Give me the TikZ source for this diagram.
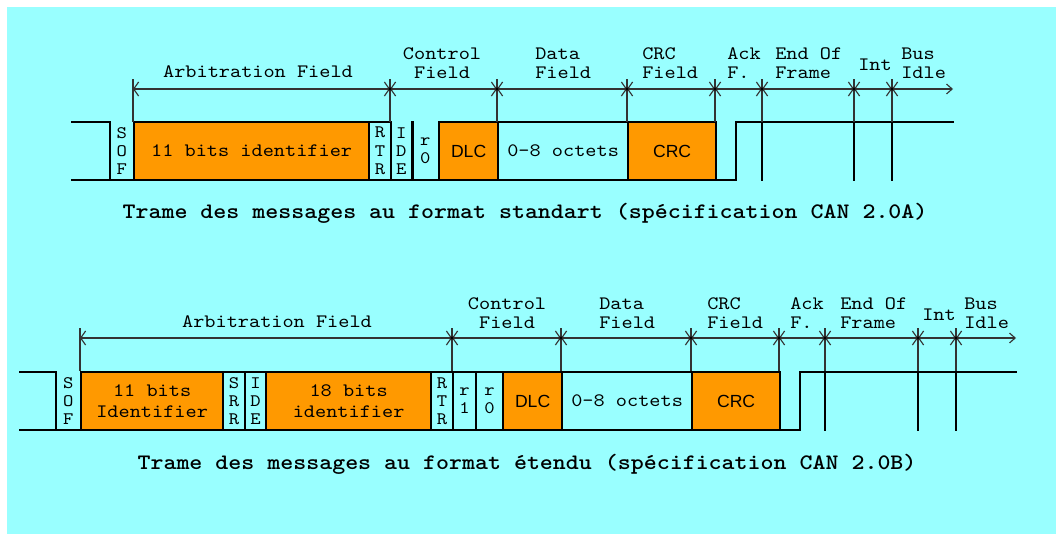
\documentclass[tikz,border=0pt]{standalone}
\usepackage{fontspec}
\setsansfont{Liberation Sans}
\newfontfamily\cmono{lmmono10-regular.otf}[FakeStretch=1.12]
\newfontfamily\cmonob{lmmonolt10-bold.otf}[FakeStretch=1.12]
\usetikzlibrary{arrows.meta}
\definecolor{bgcyan}{HTML}{99FFFF}
\definecolor{canorange}{HTML}{FF9900}
\newcommand{\pxu}{0.025cm}
\tikzset{
	cell/.style={
		rectangle,
		inner sep=0pt,
		minimum height=58*\pxu,
		anchor=west,
		align=center,
		font=\cmono\fontsize{13.5}{15}\selectfont
	},
	highcell/.style={
		cell,
		draw=black,
		line width=1.6pt
	},
	idcell/.style={
		highcell,
		fill=canorange
	},
	sanscell/.style={
		idcell,
		font=\sffamily\fontsize{12.5}{15}\selectfont
	},
	vtext/.style={
		inner sep=0pt,
		font=\cmono\fontsize{12.5}{13}\selectfont
	},
	field/.style={
		inner sep=0pt,
		align=left,
		anchor=west,
		font=\cmono\fontsize{13.5}{13.5}\selectfont
	},
	caption/.style={
		inner sep=0pt,
		font=\cmonob\fontsize{15.7}{18}\selectfont
	},
	wave/.style={line width=1.6pt, line cap=rect},
	tick/.style={line width=0.8pt, draw=black!80},
	dim/.style={
		line width=0.8pt, draw=black!80,
		{Straight Barb[length=3.5pt,width=10pt]}-{Straight Barb[length=3.5pt,width=10pt]}
	},
	lastdim/.style={
		line width=0.8pt, draw=black!80,
		{Straight Barb[length=3.5pt,width=10pt]}-{Straight Barb[length=4pt,width=7pt]}
	}
}
% cell: style, name, left x, right x, middle y, text
\newcommand{\bitcell}[6]{%
	\node[#1, minimum width={(#4-#3)*\pxu}] (#2) at (#3,#5) {#6};}

\begin{document}
\begin{tikzpicture}[x=0.025cm, y=-0.025cm]
	\useasboundingbox (0,0) rectangle (1056,534);
	\fill[bgcyan] (7,7) rectangle (1056,534);

	% ---------- standard frame (CAN 2.0A) ----------
	\bitcell{cell}{sofA}{110}{133}{151}{}
	\bitcell{idcell}{idA}{133}{368}{151}{11 bits identifier}
	\bitcell{highcell}{rtrA}{368}{390}{151}{}
	\bitcell{cell}{ideA}{390}{412}{151}{}
	\bitcell{cell}{rzA}{412}{438}{151}{}
	\bitcell{sanscell}{dlcA}{438}{497}{151}{DLC}
	\bitcell{highcell}{dataA}{497}{627}{151}{0-8 octets}
	\bitcell{sanscell}{crcA}{627}{715}{151}{CRC}
	\node[vtext, align=center] (sofAt) at (sofA) {S\\O\\F};
	\node[vtext, align=center] (rtrAt) at (rtrA) {R\\T\\R};
	\node[vtext, align=center] (ideAt) at (ideA) {I\\D\\E};
	\node[vtext, align=center] (rzAt) at (rzA) {r\\0};

	\draw[wave] (72,122) -| (sofA.south west);
	\draw[wave] (72,180) -- (736,180) -- (736,122) -- (953,122);
	\draw[wave] (ideA.north east) -- (ideA.south east);
	\foreach \x in {762,854,892}
		\draw[wave] (\x,122) -- (\x,180);

	\foreach \x [count=\i] in {133,390,497,627,715,762,854,892,953}
		\coordinate (tA\i) at (\x,89);
	\foreach \i in {1,...,8}
		\draw[tick] (tA\i) -- ++(0,-10) (tA\i) -- ++(0,33);
	\foreach \i/\j in {1/2,2/3,3/4,4/5,5/6,6/7,7/8}
		\draw[dim] (tA\i) -- (tA\j);
	\draw[lastdim] (tA8) -- (tA9);
	\foreach \i in {2,...,8}
		\fill[black] (tA\i) circle (1.2pt);

	\node[field, anchor=center] (arbA) at (258,72) {Arbitration Field};
	\node[field, anchor=center, align=center] (ctlA) at (442,63) {Control\\Field};
	\node[field] (datA) at (535,63) {Data\\Field};
	\node[field] (crfA) at (642,63) {CRC\\Field};
	\node[field] (ackA) at (727,63) {Ack\\F.};
	\node[field] (eofA) at (775,63) {End Of\\Frame};
	\node[field] (intA) at (858,65) {Int};
	\node[field] (busA) at (901,63) {Bus\\Idle};

	\node[caption] (capA) at (525,213) {Trame des messages au format standart (spécification CAN 2.0A)};

	% ---------- extended frame (CAN 2.0B) ----------
	\bitcell{cell}{sofB}{56}{80}{401}{}
	\bitcell{idcell}{idB}{80}{222}{401}{11 bits\\Identifier}
	\bitcell{highcell}{srrB}{222}{244}{401}{}
	\bitcell{highcell}{ideB}{244}{265}{401}{}
	\bitcell{idcell}{extB}{265}{430}{401}{18 bits\\identifier}
	\bitcell{highcell}{rtrB}{430}{452}{401}{}
	\bitcell{highcell}{roB}{452}{475}{401}{}
	\bitcell{highcell}{rzB}{475}{502}{401}{}
	\bitcell{sanscell}{dlcB}{502}{561}{401}{DLC}
	\bitcell{highcell}{dataB}{561}{691}{401}{0-8 octets}
	\bitcell{sanscell}{crcB}{691}{779}{401}{CRC}
	\node[vtext, align=center] (sofBt) at (sofB) {S\\O\\F};
	\node[vtext, align=center] (srrBt) at (srrB) {S\\R\\R};
	\node[vtext, align=center] (ideBt) at (ideB) {I\\D\\E};
	\node[vtext, align=center] (rtrBt) at (rtrB) {R\\T\\R};
	\node[vtext, align=center] (roBt) at (roB) {r\\1};
	\node[vtext, align=center] (rzBt) at (rzB) {r\\0};

	\draw[wave] (20,372) -| (sofB.south west);
	\draw[wave] (20,430) -- (800,430) -- (800,372) -- (1016,372);
	\foreach \x in {825,918,956}
		\draw[wave] (\x,372) -- (\x,430);

	\foreach \x [count=\i] in {80,452,561,691,779,825,918,956,1016}
		\coordinate (tB\i) at (\x,338);
	\foreach \i in {1,...,8}
		\draw[tick] (tB\i) -- ++(0,-10) (tB\i) -- ++(0,33);
	\foreach \i/\j in {1/2,2/3,3/4,4/5,5/6,6/7,7/8}
		\draw[dim] (tB\i) -- (tB\j);
	\draw[lastdim] (tB8) -- (tB9);
	\foreach \i in {2,...,8}
		\fill[black] (tB\i) circle (1.2pt);

	\node[field, anchor=center] (arbB) at (277,322) {Arbitration Field};
	\node[field, anchor=center, align=center] (ctlB) at (507,313) {Control\\Field};
	\node[field] (datB) at (599,313) {Data\\Field};
	\node[field] (crfB) at (707,313) {CRC\\Field};
	\node[field] (ackB) at (790,313) {Ack\\F.};
	\node[field] (eofB) at (840,313) {End Of\\Frame};
	\node[field] (intB) at (922,315) {Int};
	\node[field] (busB) at (964,313) {Bus\\Idle};

	\node[caption] (capB) at (527,464) {Trame des messages au format étendu (spécification CAN 2.0B)};
\end{tikzpicture}
\end{document}
